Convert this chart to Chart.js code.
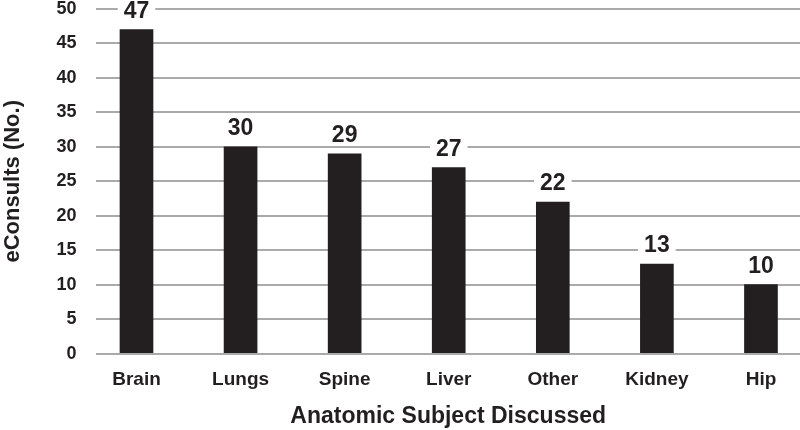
<!DOCTYPE html>
<html>
<head>
<meta charset="utf-8">
<script src="https://cdn.jsdelivr.net/npm/chart.js@4"></script>
<style>
  html, body { margin: 0; padding: 0; background: #fff; overflow: hidden; }
  #wrap { width: 800px; height: 430px; }
</style>
</head>
<body>
<div id="wrap"><canvas id="consultsChart"></canvas></div>
<script>
const categories = ['Brain', 'Lungs', 'Spine', 'Liver', 'Other', 'Kidney', 'Hip'];
const consults = [47, 30, 29, 27, 22, 13, 10];
const yTicks = [0, 5, 10, 15, 20, 25, 30, 35, 40, 45, 50];

const font = "'Liberation Sans', Arial, Helvetica, sans-serif";

// numbers above bars, with white box so the gridline breaks around them
const valueLabels = {
    id: 'valueLabels',
    afterDatasetsDraw(chart) {
        const ctx = chart.ctx;
        const meta = chart.getDatasetMeta(0);
        ctx.save();
        ctx.font = 'bold 23px ' + font;
        ctx.textAlign = 'center';
        ctx.textBaseline = 'middle';
        meta.data.forEach((bar, i) => {
            const txt = String(consults[i]);
            const y = bar.y - 18;
            const w = ctx.measureText(txt).width;
            ctx.fillStyle = '#fff';
            ctx.fillRect(bar.x - w / 2 - 6, y - 10, w + 12, 20);
            ctx.fillStyle = '#231f20';
            ctx.fillText(txt, bar.x, y);
        });
        ctx.restore();
    }
};

new Chart(document.getElementById('consultsChart'), {
    type: 'bar',
    data: {
        datasets: [{
            data: consults.map((v, i) => ({ x: i, y: v })),
            backgroundColor: '#231f20',
            barThickness: 33
        }]
    },
    options: {
        responsive: true,
        maintainAspectRatio: false,
        animation: false,
        layout: { padding: 0 },
        plugins: { legend: { display: false }, tooltip: { enabled: false } },
        scales: {
            x: {
                type: 'linear',
                offset: false,
                min: -0.385,
                max: 6.375,
                afterBuildTicks: (axis) => { axis.ticks = categories.map((_, i) => ({ value: i })); },
                grid: { display: false },
                border: { display: false },
                ticks: {
                    callback: (v) => categories[v],
                    color: '#231f20',
                    font: { family: font, size: 19, weight: 'bold' },
                    padding: 7,
                    maxRotation: 0,
                    autoSkip: false
                },
                title: {
                    display: true,
                    text: 'Anatomic Subject Discussed',
                    color: '#231f20',
                    font: { family: font, size: 23, weight: 'bold' },
                    padding: { top: 4, bottom: 0 }
                }
            },
            y: {
                min: 0,
                max: 50,
                afterBuildTicks: (axis) => { axis.ticks = yTicks.map(v => ({ value: v })); },
                afterFit: (axis) => { axis.paddingTop = 9; axis.paddingBottom = 0; },
                grid: { color: '#aaaaaa', lineWidth: 2, drawTicks: false },
                border: { display: false },
                ticks: {
                    color: '#231f20',
                    font: { family: font, size: 18, weight: 'bold' },
                    padding: 20
                },
                title: {
                    display: true,
                    text: 'eConsults (No.)',
                    color: '#231f20',
                    font: { family: font, size: 22, weight: 'bold' },
                    padding: { top: 0, bottom: 10 }
                }
            }
        }
    },
    plugins: [valueLabels]
});
</script>
</body>
</html>
